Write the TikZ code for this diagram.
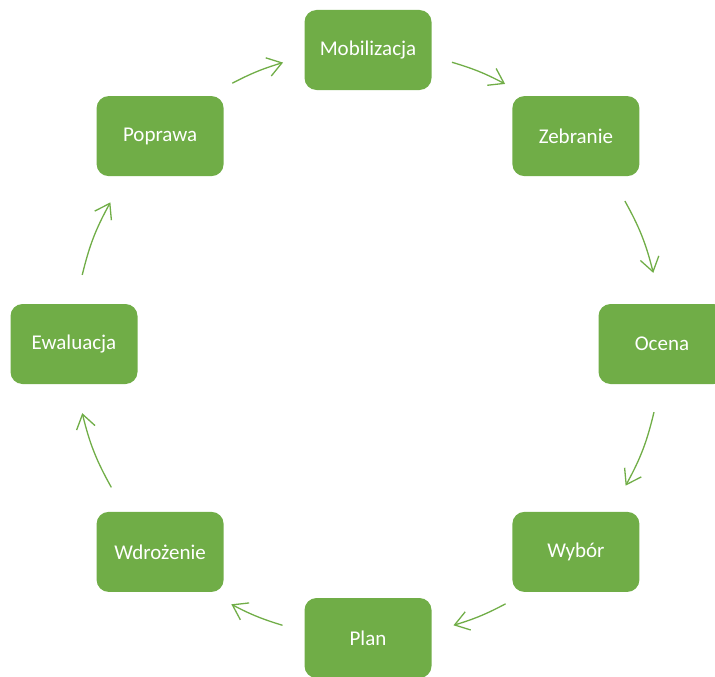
\documentclass[tikz,border=0pt]{standalone}
\usepackage{fontspec}
\setmainfont{Carlito}
\usetikzlibrary{arrows.meta,calc}

\definecolor{stagegreen}{HTML}{70AD47}

\begin{document}
\begin{tikzpicture}[x=1pt,y=1pt,
  stage/.style={rectangle,rounded corners=12pt,fill=stagegreen,text=white,
    minimum width=127pt,minimum height=80pt,inner sep=0pt,
    font=\fontsize{21}{25}\selectfont},
  flow/.style={draw=stagegreen,line width=1.3pt,
    -{Straight Barb[length=14pt,width=19pt,line width=1.3pt]}}]
\useasboundingbox (0,0) rectangle (715,-677);
\coordinate (c) at (368,-344);
% stages round the cycle
\node[stage] (mob) at ($(c)+(90:294)$) {Mobilizacja};
\node[stage] (zeb) at ($(c)+(45:294)$) {Zebranie};
\node[stage] (oce) at ($(c)+(0:294)$) {Ocena};
\node[stage] (wyb) at ($(c)+(-45:294)$) {Wybór};
\node[stage] (pla) at ($(c)+(-90:294)$) {Plan};
\node[stage] (wdr) at ($(c)+(-135:294)$) {Wdrożenie};
\node[stage] (ewa) at ($(c)+(180:294)$) {Ewaluacja};
\node[stage] (pop) at ($(c)+(135:294)$) {Poprawa};
% arrows between stages
\foreach \a/\b/\s/\e [evaluate=\e as \bnd using (45-\s-\e)/2] in
  {mob/zeb/16.6/17.2, zeb/oce/15.9/14, oce/wyb/13.4/16.2, wyb/pla/17.1/16.9,
   pla/wdr/16.9/17.3, wdr/ewa/15.8/13.6, ewa/pop/13.6/16.2, pop/mob/17.5/16.8}
  \draw[flow] ($(c)!1!-\s:(\a.center)$) to[bend left=\bnd] ($(c)!1!\e:(\b.center)$);
\end{tikzpicture}
\end{document}
